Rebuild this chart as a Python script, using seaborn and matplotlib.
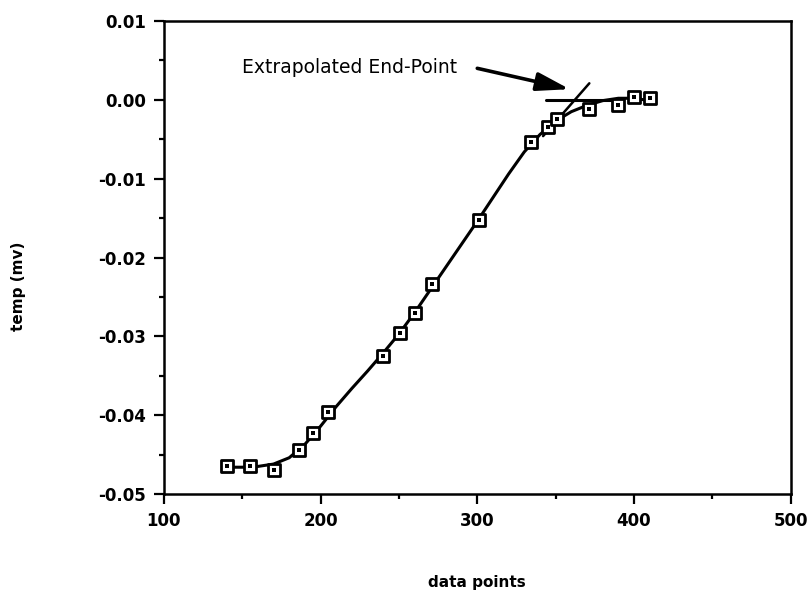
import matplotlib
matplotlib.use("Agg")
import matplotlib.pyplot as plt
import seaborn as sns
import pandas as pd

# measured data points (open squares)
pts_x = [140, 155, 170, 186, 195, 205, 240, 251, 260, 271, 301, 334, 345, 351, 371, 390, 400, 410]
pts_y = [-0.0465, -0.0465, -0.0469, -0.0444, -0.0423, -0.0396, -0.0325, -0.0296, -0.0270, -0.0233,
         -0.0153, -0.0053, -0.0035, -0.0024, -0.0012, -0.0006, 0.0003, 0.0002]

# fitted curve
curve_x = [140, 150, 160, 170, 180, 190, 200, 210, 220, 230, 240, 250, 260, 270, 280, 290, 300,
           310, 320, 330, 340, 350, 360, 370, 380, 390, 400, 410, 413]
curve_y = [-0.0466, -0.0466, -0.0465, -0.0462, -0.0454, -0.0437, -0.0414, -0.0389, -0.0366, -0.0344,
           -0.0321, -0.0297, -0.0270, -0.0241, -0.0212, -0.0183, -0.0154, -0.0124, -0.0094, -0.0066,
           -0.0044, -0.0027, -0.0015, -0.0007, -0.0001, 0.0002, 0.0002, -0.0001, -0.0003]

# construction lines for the end-point extrapolation
tangent_x = [342, 371.5]
tangent_y = [-0.0046, 0.0021]
baseline_x = [344, 392]
baseline_y = [0.0, 0.0]

annot_text = "Extrapolated End-Point"
annot_xy = (359, 0.00135)
annot_tail = (300, 0.0040)
annot_text_xy = (287, 0.00405)

x_ticks = [100, 200, 300, 400, 500]
y_ticks = [0.01, 0.00, -0.01, -0.02, -0.03, -0.04, -0.05]
y_ticklabels = ["0.01", "0.00", "-0.01", "-0.02", "-0.03", "-0.04", "-0.05"]

sns.set_style("ticks")
plt.rcParams["font.family"] = ["DejaVu Sans"]
plt.rcParams["text.color"] = "black"
plt.rcParams["axes.labelcolor"] = "black"
plt.rcParams["xtick.color"] = "black"
plt.rcParams["ytick.color"] = "black"

fig = plt.figure(figsize=(8.11, 5.92), dpi=100)
ax = fig.add_axes([0.202, 0.1655, 0.773, 0.799])

df_curve = pd.DataFrame({"x": curve_x, "y": curve_y})
df_pts = pd.DataFrame({"x": pts_x, "y": pts_y})

sns.lineplot(data=df_curve, x="x", y="y", ax=ax, color="black", linewidth=2.2, sort=False)
sns.scatterplot(data=df_pts, x="x", y="y", ax=ax, marker="s", s=70, facecolor="white",
                edgecolor="black", linewidth=2.0, zorder=3)
sns.scatterplot(data=df_pts, x="x", y="y", ax=ax, marker="s", s=5, color="black",
                linewidth=0, zorder=4)

ax.plot(tangent_x, tangent_y, color="black", linewidth=1.8)
ax.plot(baseline_x, baseline_y, color="black", linewidth=2.2)

ax.annotate("", xy=annot_xy, xytext=annot_tail,
            arrowprops=dict(arrowstyle="-|>,head_length=1.0,head_width=0.28", color="black",
                            linewidth=2.6, mutation_scale=20, shrinkA=0, shrinkB=0))
ax.text(annot_text_xy[0], annot_text_xy[1], annot_text, ha="right", va="center",
        fontsize=13.5, color="black")

ax.set_xlim(100, 500)
ax.set_ylim(-0.05, 0.01)
ax.set_xticks(x_ticks)
ax.set_xticklabels([str(t) for t in x_ticks], fontsize=12, fontweight="bold")
ax.set_xticks([150, 250, 350, 450], minor=True)
ax.set_yticks(y_ticks)
ax.set_yticklabels(y_ticklabels, fontsize=12, fontweight="bold")
ax.set_yticks([0.005, -0.005, -0.015, -0.025, -0.035, -0.045], minor=True)

ax.tick_params(axis="both", which="major", direction="out", length=7, width=1.6, color="black",
               labelcolor="black", pad=6)
ax.tick_params(axis="both", which="minor", direction="out", length=3.5, width=1.6, color="black")
ax.tick_params(top=False, right=False, which="both")

for sp in ax.spines.values():
    sp.set_visible(True)
    sp.set_linewidth(1.8)
    sp.set_color("black")

ax.set_xlabel("data points", fontsize=11, fontweight="bold", color="black", labelpad=32)
ax.set_ylabel("temp (mv)", fontsize=11, fontweight="bold", color="black")
ax.yaxis.set_label_coords(-0.22, 0.44)

fig.savefig("out.png", dpi=100)
